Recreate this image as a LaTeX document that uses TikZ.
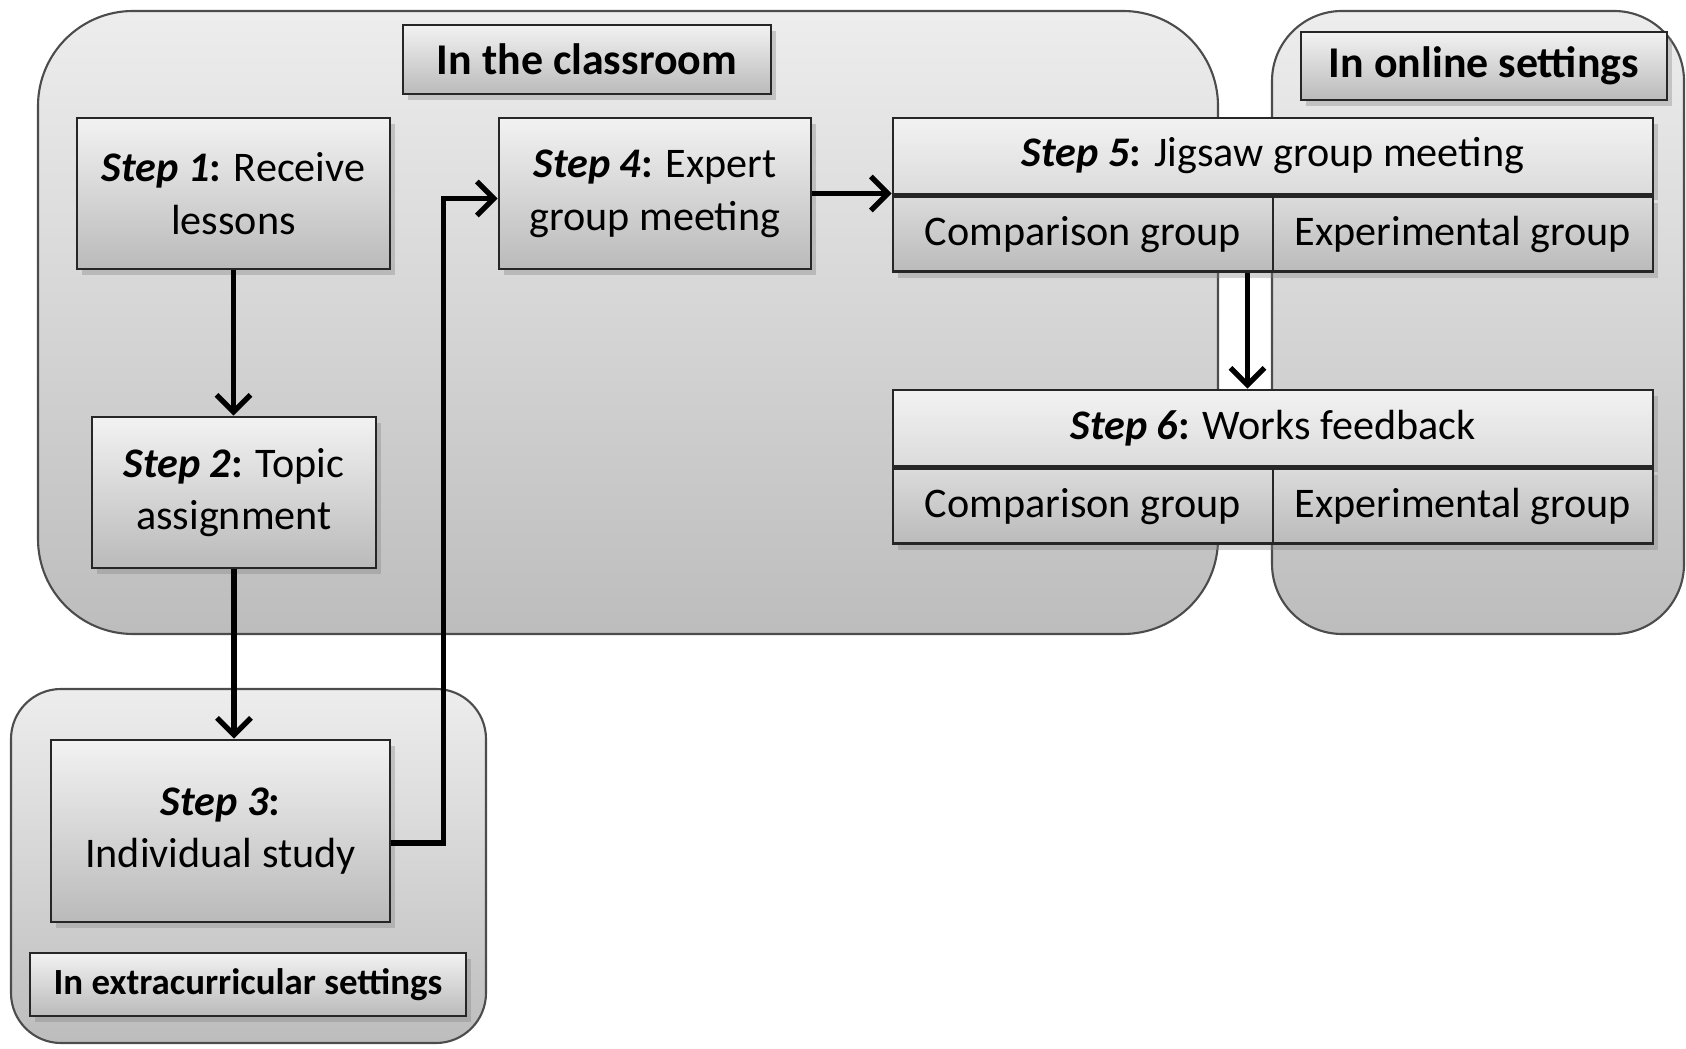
\documentclass[tikz,border=0pt]{standalone}
\usepackage{fontspec}
\setmainfont{Carlito}
\usetikzlibrary{calc, arrows.meta, positioning, shadows}

\newcommand{\stp}[1]{\textbf{\textit{Step #1}:}}

\begin{document}
\begin{tikzpicture}[
    area/.style={draw=black!70, line width=0.6pt, top color=black!7, bottom color=black!26},
    stepbox/.style={draw=black!85, line width=0.8pt, top color=black!5, bottom color=black!27,
      drop shadow={shadow xshift=0.5mm, shadow yshift=-0.6mm, opacity=0.35},
      align=center, inner sep=0pt, font=\fontsize{12}{15}\selectfont},
    cell/.style={stepbox, minimum width=3.8cm, minimum height=0.75cm},
    tag/.style={stepbox, font=\bfseries\fontsize{12.5}{15}\selectfont},
    arr/.style={-{Straight Barb[length=1.7mm,width=3.4mm]}, line width=1.5pt},
  ]
  \useasboundingbox (0,0) rectangle (16.86,-10.49);

  % the three settings
  \draw[area, rounded corners=0.95cm] (0.38,-0.11) rectangle (12.18,-6.34);
  \draw[area, rounded corners=0.7cm] (12.72,-0.11) rectangle (16.84,-6.34);
  \draw[area, rounded corners=0.5cm] (0.11,-6.89) rectangle (4.86,-10.43);

  \node[tag, minimum width=3.68cm, minimum height=0.69cm] (classroom) at (5.87,-0.595) {In the classroom};
  \node[tag, minimum width=3.66cm, minimum height=0.68cm] (online) at (14.84,-0.66) {In online settings};
  \node[tag, minimum width=4.36cm, minimum height=0.63cm, font=\bfseries\fontsize{10.5}{13}\selectfont]
    (extra) at (2.48,-9.845) {In extracurricular settings};

  % steps
  \node[stepbox, minimum width=3.13cm, minimum height=1.51cm] (s1) at (2.335,-1.935) {\stp{1} Receive\\lessons};
  \node[stepbox, minimum width=2.84cm, minimum height=1.51cm] (s2) at (2.34,-4.925) {\stp{2} Topic\\assignment};
  \node[stepbox, minimum width=3.39cm, minimum height=1.82cm] (s3) at (2.205,-8.31) {\stp{3}\\Individual study};
  \node[stepbox, minimum width=3.12cm, minimum height=1.51cm] (s4) at (6.55,-1.935) {\stp{4} Expert\\group meeting};

  \node[stepbox, minimum width=7.6cm, minimum height=0.76cm, top color=black!5, bottom color=black!14] (s5t) at (12.73,-1.56) {\stp{5} Jigsaw group meeting};
  \node[cell, anchor=north west, top color=black!14, bottom color=black!27] (s5c) at (s5t.south west) {Comparison group};
  \node[cell, anchor=north east, top color=black!14, bottom color=black!27] (s5e) at (s5t.south east) {Experimental group};

  \node[stepbox, minimum width=7.6cm, minimum height=0.76cm, top color=black!5, bottom color=black!14] (s6t) at (12.73,-4.28) {\stp{6} Works feedback};
  \node[cell, anchor=north west, top color=black!14, bottom color=black!27] (s6c) at (s6t.south west) {Comparison group};
  \node[cell, anchor=north east, top color=black!14, bottom color=black!27] (s6e) at (s6t.south east) {Experimental group};

  % flow
  \draw[arr] (s1.south) -- (s1.south |- s2.north);
  \draw[arr] (s2.south) -- (s2.south |- s3.north);
  \draw[arr] ([yshift=-1.2mm]s3.east) -- ++(0.52,0) |- ([yshift=-0.5mm]s4.west);
  \draw[arr] (s4.east) -- (s4.east -| s5t.west);
  \draw[arr] ([xshift=-2.7mm]s5c.south east) -- ([xshift=-2.7mm]s5c.south east |- s6t.north);
\end{tikzpicture}
\end{document}
